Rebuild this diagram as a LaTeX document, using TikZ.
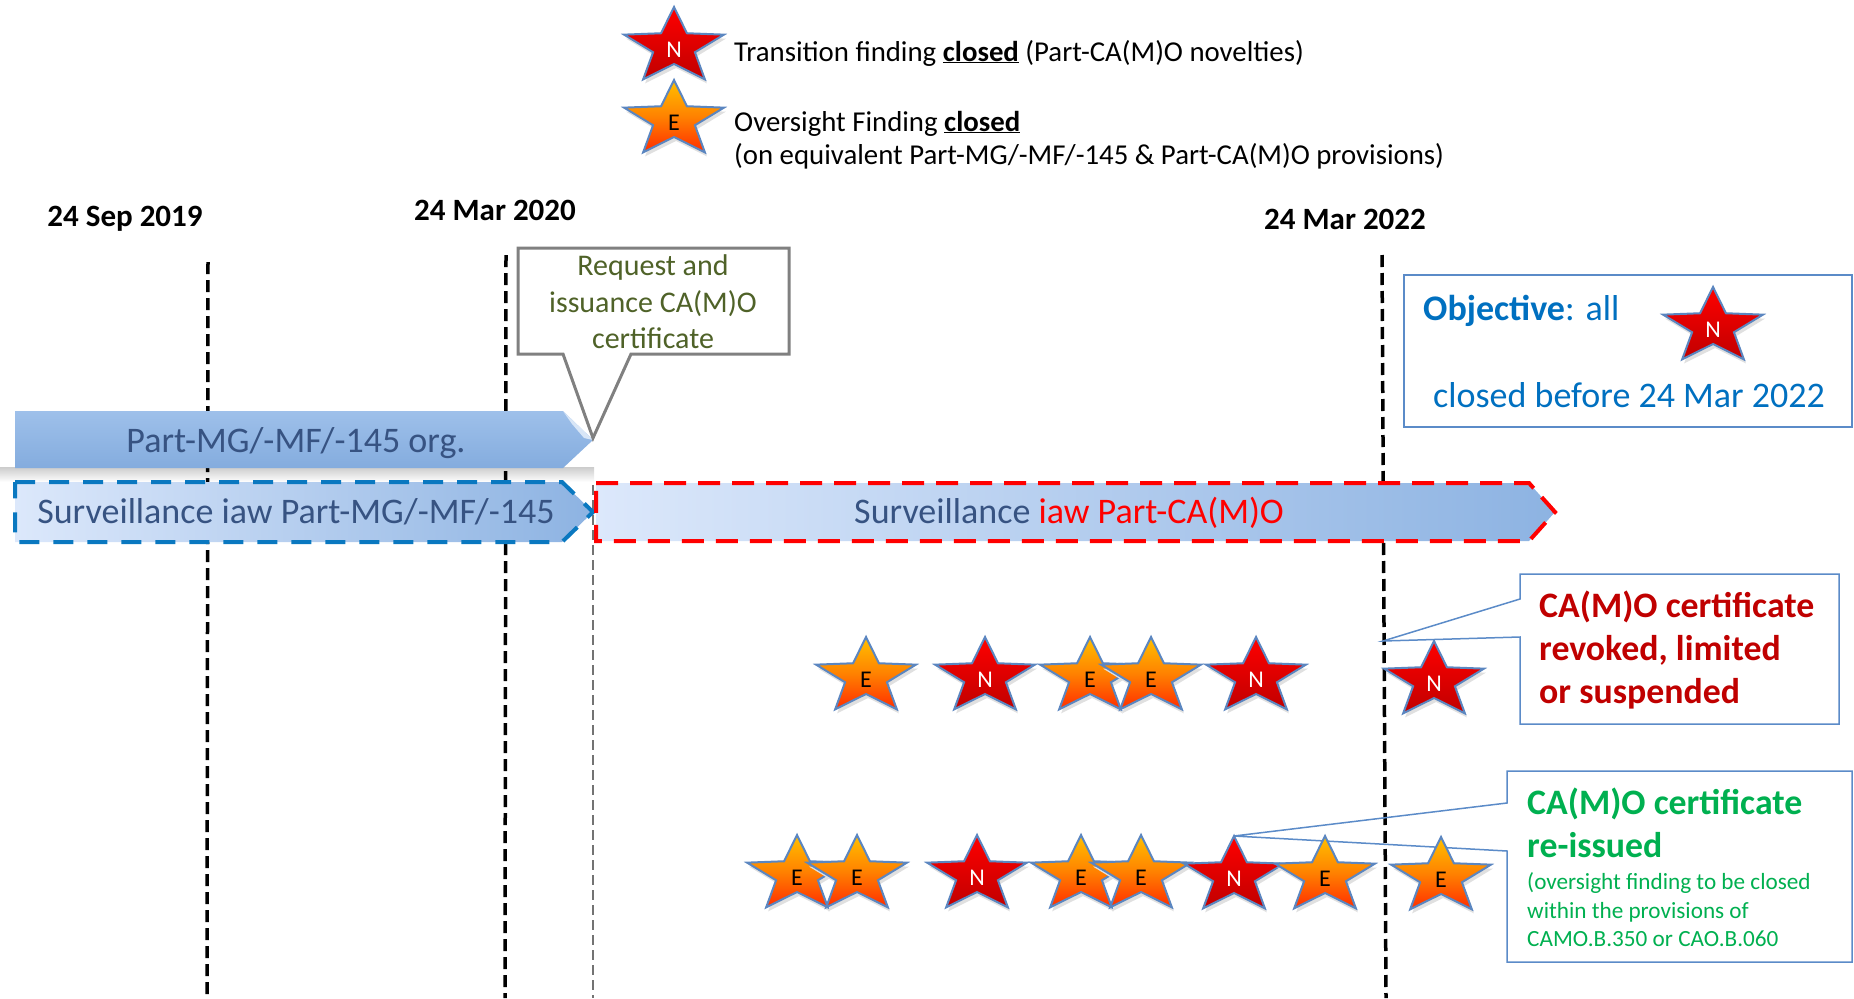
\documentclass[tikz,border=0pt]{standalone}
\usepackage{fontspec}
\setmainfont{Carlito}
\definecolor{bartxt}{RGB}{55,83,130}
\definecolor{olive}{HTML}{4F6228}
\definecolor{objblue}{HTML}{0070C0}
\definecolor{callblue}{HTML}{5B8BC8}
\definecolor{revred}{HTML}{C00000}
\definecolor{regreen}{HTML}{00B050}
\definecolor{starline}{HTML}{5B86C0}
\definecolor{barA}{HTML}{9EC0EA}
\definecolor{barB}{HTML}{84ACDE}
\definecolor{barL}{HTML}{DCE8FB}
\definecolor{barR}{HTML}{8DB3E2}
\definecolor{dashblue}{HTML}{0A78C0}
\newcommand\mystarpath{(-90:52.5 and 40) -- (-54:22 and 17) -- (-18:52.5 and 40) -- (18:22 and 17) -- (54:52.5 and 40) -- (90:22 and 17) -- (126:52.5 and 40) -- (162:22 and 17) -- (198:52.5 and 40) -- (234:22 and 17) -- cycle}
\tikzset{
  starlbl/.style={font=\fontsize{24}{26}\selectfont, inner sep=0pt},
  starout/.style={draw=starline, line width=2pt, line join=miter},
  nstar/.pic={
    \fill[black!12] [shift={(2,4)}] \mystarpath;
    \path[starout, top color=red, bottom color=revred] \mystarpath;
    \node[starlbl, text=white] (-l) at (0,3) {N};
  },
  estar/.pic={
    \fill[black!12] [shift={(2,4)}] \mystarpath;
    \path[starout, top color={rgb,255:red,255;green,192;blue,0}, bottom color={rgb,255:red,255;green,45;blue,0}, middle color={rgb,255:red,255;green,130;blue,0}] \mystarpath;
    \node[starlbl, text=black] (-l) at (0,3) {E};
  },
  legend/.style={anchor=base west, inner sep=0pt, font=\fontsize{28.8}{33}\selectfont},
  datelbl/.style={anchor=base, inner sep=0pt, font=\fontsize{31}{36}\selectfont\bfseries},
  vline/.style={line width=3.5pt, dash pattern=on 12pt off 6pt},
  bartext/.style={anchor=base, inner sep=0pt, font=\fontsize{36}{42}\selectfont, text=bartxt},
  reqtext/.style={anchor=base, inner sep=0pt, font=\fontsize{30}{36}\selectfont, text=olive},
  objtext/.style={anchor=base west, inner sep=0pt, font=\fontsize{36}{42}\selectfont, text=objblue},
  revtext/.style={anchor=base west, inner sep=0pt, font=\fontsize{35.8}{42}\selectfont\bfseries, text=revred},
  retext/.style={anchor=base west, inner sep=0pt, font=\fontsize{35.8}{42}\selectfont\bfseries, text=regreen},
  resmall/.style={anchor=base west, inner sep=0pt, font=\fontsize{23.2}{28}\selectfont, text=regreen},
  callline/.style={draw=callblue, line width=1.5pt},
}
\begin{document}
\begin{tikzpicture}[x=1pt,y=-1pt]
\useasboundingbox (0,0) rectangle (1854,998);

% legend
\pic (lgN) at (674,47) {nstar};
\pic (lgE) at (674,120) {estar};
\node[legend] (lg1) at (734,61) {Transition finding \underline{\textbf{closed}} (Part-CA(M)O novelties)};
\node[legend] (lg2) at (734,131) {Oversight Finding \underline{\textbf{closed}}};
\node[legend] (lg3) at (734,164) {(on equivalent Part-MG/-MF/-145 \& Part-CA(M)O provisions)};

% dates
\node[datelbl] (d1) at (125,226) {24 Sep 2019};
\node[datelbl] (d2) at (495,220) {24 Mar 2020};
\node[datelbl] (d3) at (1345,229) {24 Mar 2022};

% soft shadow under first bar
\shade[top color=black!20, bottom color=white] (0,467) rectangle (594,482);

% vertical lines
\coordinate (v1t) at (208,262); \coordinate (v1b) at (207,998);
\coordinate (v2t) at (506,255); \coordinate (v2b) at (505,998);
\coordinate (v3t) at (1382,255); \coordinate (v3b) at (1386,998);
\coordinate (v4t) at (593,485); \coordinate (v4b) at (593,998);
\draw[vline] (v1t) -- (v1b);
\draw[vline] (v2t) -- (v2b);
\draw[vline] (v3t) -- (v3b);
\draw[line width=2.5pt, draw=black!55, dash pattern=on 10pt off 5pt] (v4t) -- (v4b);

% bars
\path[top color=barA, bottom color=barB] (15,411) -- (563,411) -- (593,440) -- (563,468) -- (15,468) -- cycle;
\fill[white!60!barA] (563,411) -- (593,440) -- (584,438) -- (572,424) -- cycle;
\node[bartext] (b1) at (296,452) {Part-MG/-MF/-145 org.};

\path[left color=barL, right color=barR] (15,482) -- (562,482) -- (593,512) -- (562,542) -- (15,542) -- cycle;
\draw[draw=dashblue, line width=4pt, dash pattern=on 20pt off 14pt, line join=miter] (15,482) -- (562,482) -- (593,512) -- (562,542) -- (15,542) -- cycle;
\node[bartext] (b2) at (296,523) {Surveillance iaw Part-MG/-MF/-145};

\path[left color=barL, right color=barR] (596,483) -- (1529,483) -- (1555,512) -- (1529,541) -- (596,541) -- cycle;
\draw[draw=red, line width=4pt, dash pattern=on 22pt off 12pt, line join=miter] (596,483) -- (1529,483) -- (1555,512) -- (1529,541) -- (596,541) -- cycle;
\node[bartext] (b3) at (1069,523) {Surveillance \textcolor{red}{iaw Part-CA(M)O}};

% request callout
\fill[white] (518,248) rectangle (789,354);
\coordinate (reqtip) at (593,438);
\draw[draw=black!50, line width=3pt, line join=miter] (518,248) -- (789,248) -- (789,354) -- (631,354) -- (reqtip) -- (563,354) -- (518,354) -- cycle;
\node[reqtext] (rq1) at (653,275) {Request and};
\node[reqtext] (rq2) at (653,312) {issuance CA(M)O};
\node[reqtext] (rq3) at (653,348) {certificate};

% objective box
\draw[callline, fill=white] (1404,275) rectangle (1852,427);
\node[objtext] (ob1) at (1423,320) {\textbf{Objective}: all};
\node[objtext] (ob2) at (1433,407) {closed before 24 Mar 2022};
\pic (obN) at (1713,327) {nstar};

% revoked callout
\coordinate (revtip) at (1383,641);
\fill[white] (1520,574) rectangle (1839,724);
\draw[callline, line join=miter] (1520,574) -- (1839,574) -- (1839,724) -- (1520,724) -- (1520,637) -- (revtip) -- (1520,599) -- cycle;
\node[revtext] (rv1) at (1539,617) {CA(M)O certificate};
\node[revtext] (rv2) at (1539,660) {revoked, limited};
\node[revtext] (rv3) at (1539,703) {or suspended};

% reissued callout
\coordinate (retip) at (1234,836);
\fill[white] (1507,771) rectangle (1852,962);
\draw[callline, line join=miter] (1507,771) -- (1852,771) -- (1852,962) -- (1507,962) -- (1507,851) -- (retip) -- (1507,803) -- cycle;
\node[retext] (re1) at (1527,814) {CA(M)O certificate};
\node[retext] (re2) at (1527,857) {re-issued};
\node[resmall] (re3) at (1527,889) {(oversight finding to be closed};
\node[resmall] (re4) at (1527,918) {within the provisions of};
\node[resmall] (re5) at (1527,946) {CAMO.B.350 or CAO.B.060};

% row 1 stars
\pic (r1a) at (866,677) {estar};
\pic (r1b) at (985,677) {nstar};
\pic (r1c) at (1090,677) {estar};
\pic (r1d) at (1151,677) {estar};
\pic (r1e) at (1256,677) {nstar};
\pic (r1f) at (1434,681) {nstar};

% row 2 stars
\pic (r2a) at (797,875) {estar};
\pic (r2b) at (857,875) {estar};
\pic (r2c) at (977,875) {nstar};
\pic (r2d) at (1081,875) {estar};
\pic (r2e) at (1141,875) {estar};
\pic (r2f) at (1234,876) {nstar};
\pic (r2g) at (1325,876) {estar};
\pic (r2h) at (1441,877) {estar};
\end{tikzpicture}
\end{document}
